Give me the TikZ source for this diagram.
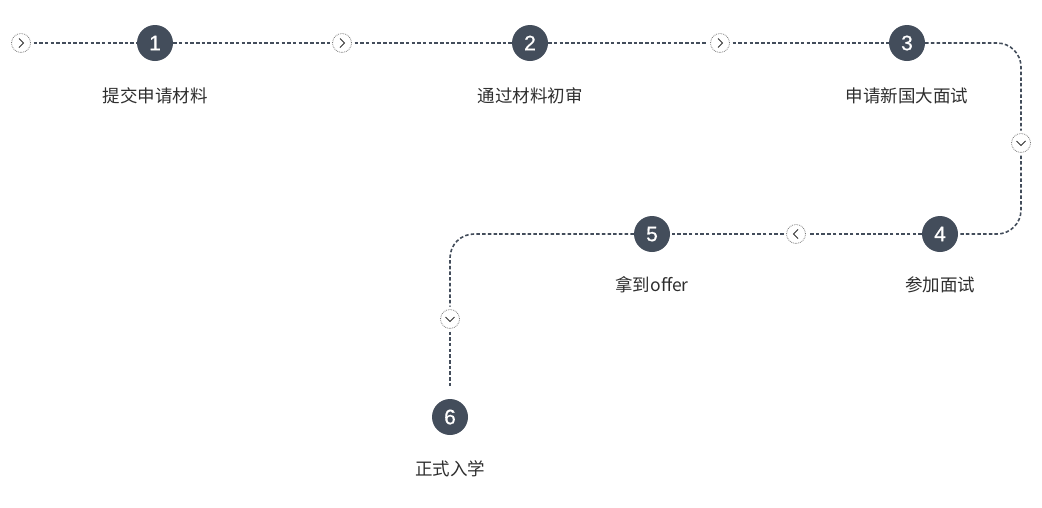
\documentclass[tikz,border=0pt]{standalone}
\usepackage{fontspec}
\setmainfont{Noto Sans CJK SC}
\newfontfamily\numfont{Liberation Sans}[FakeBold=0.6]
\definecolor{slate}{HTML}{434D5B}
\definecolor{txtgray}{HTML}{2E2E2E}
\definecolor{ringgray}{HTML}{7A7A7A}
\begin{document}
\begin{tikzpicture}[x=1pt,y=-1pt,
        num/.style={circle,fill=slate,minimum size=36pt,inner sep=0pt,
            text=white,font=\numfont\fontsize{21}{21}\selectfont},
        arr/.style={circle,draw=ringgray,densely dotted,line width=0.8pt,
            minimum size=19pt,inner sep=0pt,outer sep=3pt},
        chev/.style={draw=txtgray,line width=0.8pt},
        lbl/.style={text=txtgray,font=\fontsize{17.5}{17.5}\selectfont},
        flow/.style={draw=slate,line width=1.6pt,dash pattern=on 3.5pt off 2.2pt,
            rounded corners=24pt}]
\useasboundingbox (0,0) rectangle (1042,507);

% steps
\node[num] (n1) at (155,43) {1};
\node[num] (n2) at (530,43) {2};
\node[num] (n3) at (907,43) {3};
\node[num] (n4) at (940,234) {4};
\node[num] (n5) at (652,234) {5};
\node[num] (n6) at (450,417) {6};

\node[lbl] (t1) at (155,96) {提交申请材料};
\node[lbl] (t2) at (530,96) {通过材料初审};
\node[lbl] (t3) at (907,96) {申请新国大面试};
\node[lbl] (t4) at (940,285) {参加面试};
\node[lbl] (t5) at (652,285) {拿到offer};
\node[lbl] (t6) at (450,469) {正式入学};

% small arrows
\node[arr] (a1) at (21,43) {};
\node[arr] (a2) at (342,43) {};
\node[arr] (a3) at (720,43) {};
\node[arr] (a4) at (1021,143) {};
\node[arr] (a5) at (796,234) {};
\node[arr] (a6) at (450,319) {};
\foreach \a in {a1,a2,a3}
    \draw[chev] ([shift={(-2,-4.5)}]\a.center) -- ++(4.5,4.5) -- ++(-4.5,4.5);
\foreach \a in {a4,a6}
    \draw[chev] ([shift={(-4.5,-2)}]\a.center) -- ++(4.5,4.5) -- ++(4.5,-4.5);
\draw[chev] ([shift={(2,-4.5)}]a5.center) -- ++(-4.5,4.5) -- ++(4.5,4.5);

% path
\draw[flow] (a1) -- (n1);
\draw[flow] (n1) -- (a2);
\draw[flow] (a2) -- (n2);
\draw[flow] (n2) -- (a3);
\draw[flow] (a3) -- (n3);
\draw[flow] (n3) -| (a4);
\draw[flow] (a4) |- (n4);
\draw[flow] (n4) -- (a5);
\draw[flow] (a5) -- (n5);
\draw[flow] (n5) -| (a6);
\draw[flow] (a6) -- ([yshift=11pt]n6.north);
\end{tikzpicture}
\end{document}
